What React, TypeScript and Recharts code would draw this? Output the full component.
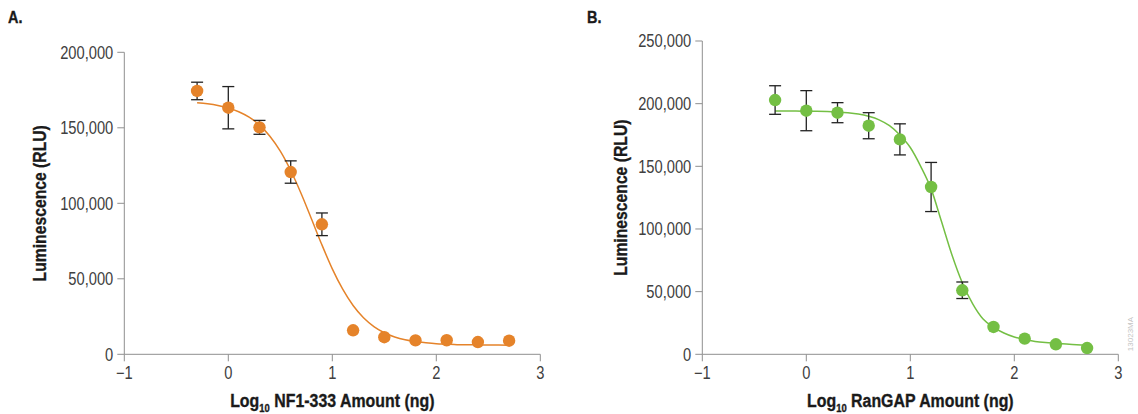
import React from 'react';
import { ComposedChart, Line, Scatter, XAxis, YAxis, ErrorBar, Label } from 'recharts';

// ---------- data ----------
const doseLog = [-0.3, 0, 0.3, 0.6, 0.9, 1.2, 1.5, 1.8, 2.1, 2.4, 2.7];
const nf1Mean = [174400, 163300, 150300, 120700, 86100, 15900, 11300, 9200, 9300, 8100, 9000];
const nf1Err = [5800, 14000, 4600, 7400, 7500, null, null, null, null, null, null];
const ranMean = [202900, 194400, 192800, 182400, 171500, 133500, 51100, 21800, 12500, 8000, 5000];
const ranErr = [11400, 16000, 8000, 10400, 12400, 19600, 6600, null, null, null, null];

const fitLog = [
  -0.3, -0.2, -0.1, 0, 0.1, 0.2, 0.3, 0.4, 0.5, 0.6, 0.7, 0.8, 0.9, 1.0, 1.1, 1.2,
  1.3, 1.4, 1.5, 1.6, 1.7, 1.8, 1.9, 2.0, 2.1, 2.2, 2.3, 2.4, 2.5, 2.6, 2.7,
];
const nf1Fit = [
  166600, 165900, 164800, 163100, 160600, 157000, 151800, 144400, 134500, 121700, 106500,
  89600, 72500, 56600, 43100, 32300, 24200, 18400, 14300, 11500, 9600, 8400, 7600, 7000,
  6700, 6400, 6300, 6200, 6100, 6100, 6000,
];
const ranFit = [
  194200, 194100, 194100, 194000, 193900, 193700, 193300, 192700, 191700, 189900, 187100,
  182400, 175000, 165000, 150000, 132000, 106000, 79500, 57100, 40200, 28100, 21500, 17000,
  13800, 11800, 10300, 9400, 8800, 8200, 7700, 7400,
];

const xTicks = [-1, 0, 1, 2, 3];
const nf1YTicks = [0, 50000, 100000, 150000, 200000];
const ranYTicks = [0, 50000, 100000, 150000, 200000, 250000];

// ---------- styling ----------
const FONT = "'Liberation Sans', Arial, Helvetica, sans-serif";
const SQ = 0.84; // horizontal squeeze to mimic a condensed face
const AXIS = '#8f8f8f';
const TICK_TEXT = '#404040';
const TITLE = '#1a1a1a';
const ORANGE = '#E5832A';
const GREEN = '#74BF44';

const fmtX = (v: number) => (v < 0 ? '\u2212' + Math.abs(v) : String(v));
const fmtY = (v: number) => v.toLocaleString('en-US');

const XTick = (props: any) => {
  const { x, y, payload } = props;
  return (
    <text
      transform={`translate(${x},${y}) scale(${SQ},1)`}
      textAnchor="middle"
      dy="0.71em"
      fontFamily={FONT}
      fontSize={17.5}
      fill={TICK_TEXT}
    >
      {fmtX(payload.value)}
    </text>
  );
};

const YTick = (props: any) => {
  const { x, y, payload } = props;
  return (
    <text
      transform={`translate(${x},${y}) scale(${SQ},1)`}
      textAnchor="end"
      dy="0.355em"
      fontFamily={FONT}
      fontSize={17.5}
      fill={TICK_TEXT}
    >
      {fmtY(payload.value)}
    </text>
  );
};

const yTitle = (cx: number) => (props: any) => {
  const vb = props.viewBox || {};
  const cy = vb.y + vb.height / 2;
  return (
    <text
      transform={`translate(${cx},${cy}) rotate(-90) scale(0.85,1)`}
      textAnchor="middle"
      dominantBaseline="central"
      fontFamily={FONT}
      fontWeight="bold"
      fontSize={18.5}
      fill={TITLE}
      stroke={TITLE}
      strokeWidth={0.35}
    >
      Luminescence (RLU)
    </text>
  );
};

const xTitle = (name: string) => (props: any) => {
  const vb = props.viewBox || {};
  const cx = vb.x + vb.width / 2;
  const y = vb.y + 53;
  return (
    <text
      transform={`translate(${cx},${y}) scale(0.86,1)`}
      textAnchor="middle"
      fontFamily={FONT}
      fontWeight="bold"
      fontSize={18.5}
      fill={TITLE}
      stroke={TITLE}
      strokeWidth={0.35}
    >
      <tspan>Log</tspan>
      <tspan fontSize={11} dy={5}>10</tspan>
      <tspan dy={-5}>{' ' + name + ' Amount (ng)'}</tspan>
    </text>
  );
};

const dot = (color: string) => (props: any) => (
  <circle cx={props.cx} cy={props.cy} r={6.2} fill={color} />
);

type PanelProps = {
  width: number;
  top: number;
  right: number;
  yAxisWidth: number;
  yMax: number;
  yTicks: number[];
  means: number[];
  errs: (number | null)[];
  fit: number[];
  color: string;
  name: string;
  titleX: number;
};

function Panel(p: PanelProps) {
  const points = doseLog.map((x, i) => ({ x, y: p.means[i], err: p.errs[i] }));
  const curve = fitLog.map((x, i) => ({ x, y: p.fit[i] }));
  return (
    <ComposedChart
      width={p.width}
      height={414}
      margin={{ top: p.top, right: p.right, bottom: 0, left: 0 }}
    >
      <XAxis
        dataKey="x"
        type="number"
        domain={[-1, 3]}
        ticks={xTicks}
        height={59.7}
        stroke={AXIS}
        tickSize={7}
        tickMargin={5}
        tick={<XTick />}
        allowDataOverflow
      >
        <Label content={xTitle(p.name)} />
      </XAxis>
      <YAxis
        type="number"
        domain={[0, p.yMax]}
        ticks={p.yTicks}
        width={p.yAxisWidth}
        stroke={AXIS}
        tickSize={7}
        tickMargin={4}
        tick={<YTick />}
        allowDataOverflow
      >
        <Label content={yTitle(p.titleX)} />
      </YAxis>
      <Line
        data={curve}
        dataKey="y"
        type="monotone"
        stroke={p.color}
        strokeWidth={1.5}
        dot={false}
        activeDot={false}
        isAnimationActive={false}
      />
      <Scatter data={points} dataKey="y" fill={p.color} shape={dot(p.color)} isAnimationActive={false}>
        <ErrorBar dataKey="err" direction="y" width={6} stroke="#222" strokeWidth={1.3} />
      </Scatter>
    </ComposedChart>
  );
}

const panelLetter: React.CSSProperties = {
  position: 'absolute',
  top: 9,
  fontFamily: FONT,
  fontWeight: 'bold',
  fontSize: 17,
  color: TITLE,
  lineHeight: '17px',
  transform: 'scaleX(0.85)',
  transformOrigin: 'left top',
  WebkitTextStroke: '0.35px #1a1a1a',
};

export default function App() {
  return (
    <div style={{ position: 'absolute', left: 0, top: 0, width: 1138, height: 414, background: '#fff', overflow: 'hidden' }}>
      <div style={{ ...panelLetter, left: 8 }}>A.</div>
      <div style={{ ...panelLetter, left: 587 }}>B.</div>
      <div style={{ position: 'absolute', left: 0, top: 0 }}>
        <Panel
          width={570}
          top={52.3}
          right={29.7}
          yAxisWidth={124.3}
          yMax={200000}
          yTicks={nf1YTicks}
          means={nf1Mean}
          errs={nf1Err}
          fit={nf1Fit}
          color={ORANGE}
          name="NF1-333"
          titleX={40}
        />
      </div>
      <div style={{ position: 'absolute', left: 570, top: 0 }}>
        <Panel
          width={568}
          top={41}
          right={19.7}
          yAxisWidth={132.3}
          yMax={250000}
          yTicks={ranYTicks}
          means={ranMean}
          errs={ranErr}
          fit={ranFit}
          color={GREEN}
          name="RanGAP"
          titleX={51}
        />
      </div>
      <div
        style={{
          position: 'absolute',
          left: 1106,
          top: 330,
          width: 50,
          transform: 'rotate(-90deg)',
          transformOrigin: 'center',
          fontFamily: FONT,
          fontSize: 8,
          color: '#c4c4c4',
          textAlign: 'center',
          lineHeight: '8px',
        }}
      >
        13023MA
      </div>
    </div>
  );
}
